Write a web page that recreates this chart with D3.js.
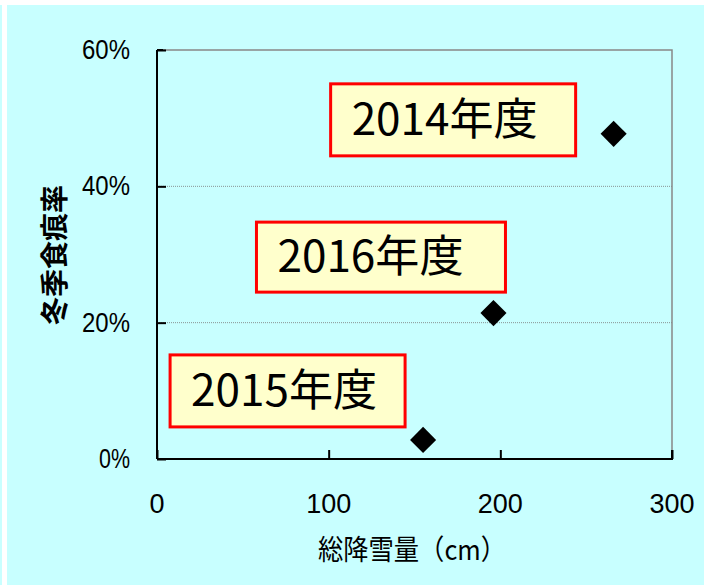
<!DOCTYPE html>
<html lang="ja">
<head>
<meta charset="UTF-8">
<title>冬季食痕率</title>
<script src="https://cdn.jsdelivr.net/npm/d3@7"></script>
<style>
  body { margin: 0; background: #fff; }
  .tick-label { font-family: "Liberation Sans", Arial, sans-serif; font-size: 27px; fill: #000; }
  .axis-title { font-family: "Noto Sans CJK JP", sans-serif; font-size: 28px; fill: #000; }
  .year-label { font-family: "Noto Sans CJK JP", "Liberation Sans", sans-serif; font-size: 44px; fill: #000; }
</style>
</head>
<body>
<svg width="704" height="585"></svg>
<script>
// データ
const years = ["2014年度", "2016年度", "2015年度"];
const snowfall = [266, 196, 155];      // 総降雪量 (cm)
const rate = [0.477, 0.214, 0.028];    // 冬季食痕率
const xTicks = [0, 100, 200, 300];
const yTicks = [0, 0.2, 0.4, 0.6];

// ラベル位置 (点からのずれ)
const labelBox = [
  { dx: -283, dy: -50, w: 245, h: 72 },
  { dx: -237, dy: -91, w: 249, h: 70 },
  { dx: -253, dy: -85, w: 235, h: 72 }
];

const width = 704, height = 585;
const margin = { top: 50, right: 32, bottom: 126, left: 157 };

const svg = d3.select("svg");

// 背景
svg.append("rect").attr("x", 0).attr("y", 0).attr("width", width).attr("height", height).attr("fill", "#fff");
svg.append("rect").attr("x", 0).attr("y", 5).attr("width", 2).attr("height", height).attr("fill", "#c8ffff");
svg.append("rect").attr("x", 7).attr("y", 5).attr("width", width - 7).attr("height", height - 5).attr("fill", "#c8ffff");

const x = d3.scaleLinear().domain([0, 300]).range([margin.left, width - margin.right]);
const y = d3.scaleLinear().domain([0, 0.6]).range([height - margin.bottom, margin.top]);

// グリッド線
svg.append("g")
  .selectAll("line")
  .data(yTicks.filter(d => d > 0 && d < 0.6))
  .join("line")
  .attr("x1", x(0)).attr("x2", x(300))
  .attr("y1", d => y(d)).attr("y2", d => y(d))
  .attr("stroke", "#777").attr("stroke-width", 0.8).attr("stroke-dasharray", "1,1");

// 枠 (上・右)
svg.append("path")
  .attr("d", `M${x(0)},${y(0.6)}H${x(300)}V${y(0)}`)
  .attr("fill", "none").attr("stroke", "#888").attr("stroke-width", 1.5);

// y軸
const yAxis = svg.append("g")
  .attr("transform", `translate(${x(0)},0)`)
  .call(d3.axisRight(y).tickValues(yTicks).tickSize(9).tickFormat(""));
yAxis.select(".domain").attr("stroke", "#000").attr("stroke-width", 2).attr("d", `M0,${y(0.6)}H6M0,${y(0.6)}V${y(0)}`);
yAxis.selectAll(".tick line").attr("stroke", "#000").attr("stroke-width", 2);

svg.append("g")
  .selectAll("text")
  .data(yTicks)
  .join("text")
  .attr("class", "tick-label")
  .attr("x", 130)
  .attr("y", d => y(d) + 9)
  .attr("text-anchor", "end")
  .attr("textLength", d => d === 0 ? 31 : 48)
  .attr("lengthAdjust", "spacingAndGlyphs")
  .text(d => d3.format(".0%")(d));

// x軸
const xAxis = svg.append("g")
  .attr("transform", `translate(0,${y(0)})`)
  .call(d3.axisTop(x).tickValues(xTicks).tickSize(9).tickFormat(""));
xAxis.select(".domain").attr("stroke", "#000").attr("stroke-width", 2).attr("d", `M${x(0)},0H${x(300)}V-9`);
xAxis.selectAll(".tick line").attr("stroke", "#000").attr("stroke-width", 2);

svg.append("g")
  .selectAll("text")
  .data(xTicks)
  .join("text")
  .attr("class", "tick-label")
  .attr("x", d => x(d))
  .attr("y", 513)
  .attr("text-anchor", "middle")
  .text(d => d);

// 軸タイトル
svg.append("text")
  .attr("class", "axis-title")
  .attr("transform", "translate(65,255) rotate(-90)")
  .attr("text-anchor", "middle")
  .attr("font-size", 30)
  .attr("font-weight", "bold")
  .text("冬季食痕率");

svg.append("text")
  .attr("class", "axis-title")
  .attr("x", 412)
  .attr("y", 560)
  .attr("text-anchor", "middle")
  .attr("textLength", 188)
  .attr("lengthAdjust", "spacingAndGlyphs")
  .text("総降雪量（cm）");

// ラベル
const labels = svg.append("g")
  .selectAll("g")
  .data(years)
  .join("g")
  .attr("transform", (d, i) => `translate(${x(snowfall[i]) + labelBox[i].dx},${y(rate[i]) + labelBox[i].dy})`);

labels.append("rect")
  .attr("width", (d, i) => labelBox[i].w)
  .attr("height", (d, i) => labelBox[i].h)
  .attr("fill", "#ffffcc")
  .attr("stroke", "#ff0000")
  .attr("stroke-width", 3);

labels.append("text")
  .attr("class", "year-label")
  .attr("x", 21)
  .attr("y", (d, i) => labelBox[i].h / 2 + 15)
  .attr("textLength", 186)
  .attr("lengthAdjust", "spacingAndGlyphs")
  .text(d => d);

// 点
svg.append("g")
  .selectAll("path")
  .data(years)
  .join("path")
  .attr("d", d3.symbol(d3.symbolSquare, 340))
  .attr("transform", (d, i) => `translate(${x(snowfall[i])},${y(rate[i])}) rotate(45)`)
  .attr("fill", "#000");
</script>
</body>
</html>
